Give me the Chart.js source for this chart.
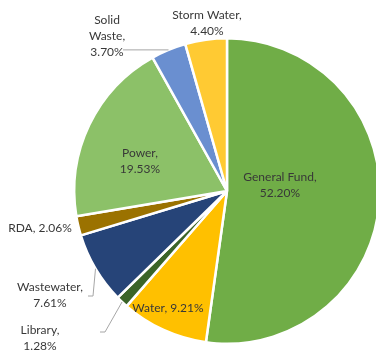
<!DOCTYPE html>
<html>
<head>
<meta charset="utf-8">
<script src="https://cdn.jsdelivr.net/npm/chart.js@4/dist/chart.umd.min.js"></script>
<style>
  html, body { margin: 0; padding: 0; background: #fff; overflow: hidden; }
  #wrap { width: 386px; height: 352px; }
</style>
</head>
<body>
<div id="wrap"><canvas id="chart" width="386" height="352"></canvas></div>
<script>
// fund shares, clockwise from 12 o'clock
const categories = ['General Fund', 'Water', 'Library', 'Wastewater', 'RDA', 'Power', 'Solid Waste', 'Storm Water']
const shares = [52.20, 9.21, 1.28, 7.61, 2.06, 19.53, 3.70, 4.40]
const colors = ['#70ad47', '#ffc000', '#3b6428', '#264478', '#9b7200', '#8cc168', '#6a8fd0', '#ffca33']

// label placement (text lines, centre point, optional leader elbow/end)
const labelLayout = [
  { lines: ['General Fund,', '52.20%'], x: 280, y: 177 },
  { lines: ['Water, 9.21%'], x: 168, y: 308 },
  { lines: ['Library,', '1.28%'], x: 40, y: 330, leader: [[105, 332], [100, 332]] },
  { lines: ['Wastewater,', '7.61%'], x: 50, y: 287, leader: [[93, 296], [88, 296]] },
  { lines: ['RDA, 2.06%'], x: 40, y: 228 },
  { lines: ['Power,', '19.53%'], x: 140, y: 153 },
  { lines: ['Solid', 'Waste,', '3.70%'], x: 107, y: 20, leader: [[123, null]] },
  { lines: ['Storm Water,', '4.40%'], x: 207, y: 15 }
]

const labelPlugin = {
  id: 'sliceLabels',
  afterDraw(chart) {
    const ctx = chart.ctx
    const arcs = chart.getDatasetMeta(0).data
    ctx.save()
    ctx.font = '12px Lato, "Open Sans", sans-serif'
    ctx.fillStyle = '#383838'
    ctx.textAlign = 'center'
    ctx.textBaseline = 'middle'
    labelLayout.forEach((lab, i) => {
      lab.lines.forEach((t, j) => ctx.fillText(t, lab.x, lab.y + j * 16))
      if (lab.leader) {
        const a = arcs[i]
        const mid = (a.startAngle + a.endAngle) / 2
        const sx = a.x + Math.cos(mid) * a.outerRadius
        const sy = a.y + Math.sin(mid) * a.outerRadius
        ctx.beginPath()
        ctx.strokeStyle = '#a6a6a6'
        ctx.lineWidth = 1
        ctx.moveTo(sx, sy)
        lab.leader.forEach(p => ctx.lineTo(p[0], p[1] == null ? sy : p[1]))
        ctx.stroke()
      }
    })
    ctx.restore()
  }
}

new Chart(document.getElementById('chart'), {
  type: 'pie',
  data: {
    labels: categories,
    datasets: [{
      data: shares,
      backgroundColor: colors,
      borderColor: '#ffffff',
      borderWidth: 2.5
    }]
  },
  options: {
    responsive: false,
    animation: false,
    layout: { padding: { left: 73, top: 37, right: 5, bottom: 7 } },
    plugins: {
      legend: { display: false },
      tooltip: { enabled: false }
    }
  },
  plugins: [labelPlugin]
})
</script>
</body>
</html>
